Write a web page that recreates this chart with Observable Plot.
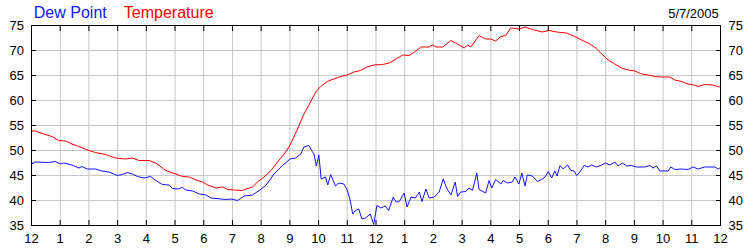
<!DOCTYPE html>
<html>
<head>
<meta charset="utf-8">
<script src="https://cdn.jsdelivr.net/npm/d3@7"></script>
<script src="https://cdn.jsdelivr.net/npm/@observablehq/plot@0.6"></script>
<style>
  html, body { margin: 0; padding: 0; background: #fff; }
  #chart svg { display: block; }
</style>
</head>
<body>
<div id="chart"></div>
<script>
// ---- data ----
const legendNames = ["Dew Point", "Temperature"];
const dateLabel = "5/7/2005";

const hourTicks = [0,1,2,3,4,5,6,7,8,9,10,11,12,13,14,15,16,17,18,19,20,21,22,23,24];
const hourLabels = ["12","1","2","3","4","5","6","7","8","9","10","11","12","1","2","3","4","5","6","7","8","9","10","11","12"];
const valueTicks = [35,40,45,50,55,60,65,70,75];

const tempHours = [0,0.13,0.48,0.71,0.95,1.18,1.41,1.65,2.0,2.23,2.58,2.93,3.28,3.51,3.75,4.10,4.33,4.68,5.03,5.26,5.50,5.73,5.96,
  6.14,6.43,6.66,6.83,7.06,7.35,7.47,7.70,7.87,8.10,8.34,8.57,8.80,8.97,9.14,9.32,9.49,9.72,9.90,10.07,10.30,10.53,10.76,10.99,11.23,11.46,11.69,11.92,
  12.23,12.46,12.70,12.93,13.16,13.39,13.56,13.85,13.97,14.09,14.32,14.61,14.78,15.07,15.19,15.30,15.59,15.82,16.0,16.17,16.35,16.52,16.69,16.98,17.21,17.45,17.79,18.03,
  18.29,18.64,18.93,19.16,19.39,19.62,19.86,20.09,20.32,20.55,20.78,21.02,21.25,21.48,21.71,21.94,22.23,22.41,22.64,22.87,23.10,23.22,23.45,23.74,23.89,24.0];
const tempValues = [53.9,53.9,53.2,52.8,52.0,51.9,51.3,50.8,50.0,49.6,49.2,48.5,48.3,48.5,48.0,48.0,47.5,46.0,45.3,44.8,44.7,44.1,43.7,
  43.1,42.5,42.7,42.2,42.1,42.0,42.3,42.7,43.7,44.7,46.0,47.7,49.3,50.7,52.7,55.0,57.3,59.7,61.7,62.8,63.8,64.3,64.8,65.1,65.7,66.0,66.7,67.1,
  67.2,67.5,68.3,69.1,69.0,69.9,70.7,70.7,71.1,70.7,70.7,72.0,71.5,70.5,71.1,70.7,73.0,72.3,72.3,71.9,72.8,73.0,74.5,74.3,74.7,74.2,73.7,74.0,
  73.7,73.5,72.8,72.1,71.5,70.7,69.3,68.1,67.3,66.5,66.1,65.9,65.3,65.1,64.8,64.7,64.7,64.1,63.8,63.3,63.1,62.8,63.2,63.1,62.8,62.7];

const dewHours = [0,0.05,0.1,0.6,0.83,1.0,1.12,1.41,1.65,1.76,1.94,2.23,2.46,2.70,2.99,3.16,3.34,3.51,3.69,3.92,4.15,4.33,4.56,4.80,4.91,5.09,5.26,5.38,5.61,5.85,6.08,
  6.25,6.60,6.77,6.95,7.18,7.41,7.70,7.93,8.16,8.45,8.74,9.01,9.20,9.38,9.49,9.66,9.78,9.84,9.92,10.01,10.09,10.24,10.32,10.42,10.59,10.71,10.88,10.99,11.09,11.19,11.28,11.40,11.51,11.63,11.80,11.92,12.03,
  12.17,12.32,12.44,12.60,12.70,12.81,12.98,13.08,13.22,13.37,13.51,13.60,13.74,13.85,14.03,14.20,14.34,14.46,14.61,14.76,14.84,14.95,15.13,15.24,15.36,15.51,15.59,15.82,15.94,16.03,16.17,16.35,16.43,16.58,16.75,16.84,16.98,17.08,17.19,17.27,17.45,17.62,17.79,17.89,
  18.0,18.12,18.23,18.31,18.41,18.52,18.67,18.79,18.90,18.99,19.10,19.25,19.39,19.51,19.68,19.86,20.0,20.15,20.32,20.44,20.58,20.73,20.90,21.07,21.36,21.54,21.65,21.77,21.89,22.18,22.27,22.41,22.64,22.87,23.05,23.22,23.45,23.80,23.92,24.0];
const dewValues = [47.7,47.3,47.7,47.6,47.8,47.3,47.5,47.1,46.5,46.8,46.3,46.3,45.9,45.7,45.0,45.2,45.6,45.3,44.8,44.5,44.8,44.0,43.2,43.1,42.4,42.3,42.6,42.1,41.9,41.3,41.1,
  40.5,40.3,40.2,40.3,40.0,40.9,41.1,42.0,43.0,45.3,47.0,48.3,48.5,49.3,50.7,51.0,49.8,49.3,46.9,49.1,44.3,44.7,43.1,45.2,42.9,43.5,43.3,42.2,40.3,37.3,38.0,38.3,36.3,36.5,37.3,35.2,39.0,
  38.5,38.9,38.0,40.7,39.7,39.8,41.5,38.7,40.7,40.5,41.7,39.8,42.3,40.5,40.7,41.7,44.3,42.5,41.1,43.7,40.8,41.7,41.8,42.5,42.0,45.5,42.2,41.5,44.0,42.5,44.2,43.3,44.0,43.5,43.7,44.7,43.3,45.5,42.9,45.1,44.9,43.8,44.3,44.7,
  45.8,44.5,45.9,44.9,47.0,46.3,47.1,46.0,45.9,45.0,45.7,47.0,46.7,47.1,46.7,47.1,47.5,47.1,47.7,46.9,47.5,46.9,47.0,46.7,46.7,47.0,46.5,46.9,45.9,45.9,46.7,46.2,46.3,46.2,46.7,46.3,46.7,46.7,46.3,46.6];

// ---- build tables ----
const temp = tempHours.map((h, i) => ({h, v: tempValues[i]}));
const dew = dewHours.map((h, i) => ({h, v: dewValues[i]}));

const blue = "#1414ff";
const red = "#ff0000";
const font = "Arial, 'Liberation Sans', sans-serif";

const chart = Plot.plot({
  width: 750,
  height: 250,
  marginLeft: 31,
  marginRight: 30,
  marginTop: 25,
  marginBottom: 25,
  style: {fontFamily: font, fontSize: "13px", background: "#fff", color: "#000", overflow: "visible"},
  x: {domain: [0, 24], label: null},
  y: {domain: [35, 75], label: null},
  marks: [
    Plot.gridX(hourTicks, {stroke: "#c8c8c8", strokeOpacity: 1, strokeWidth: 1}),
    Plot.gridY(valueTicks, {stroke: "#c8c8c8", strokeOpacity: 1, strokeWidth: 1}),
    Plot.line(dew, {x: "h", y: "v", stroke: blue, strokeWidth: 1}),
    Plot.line(temp, {x: "h", y: "v", stroke: red, strokeWidth: 1}),
    Plot.frame({stroke: "#000", strokeWidth: 1}),
    Plot.axisX(hourTicks, {anchor: "bottom", tickSize: 5, insetBottom: 5, tickPadding: 8, tickFormat: (d) => hourLabels[hourTicks.indexOf(d)], fontSize: 13}),
    Plot.axisX(hourTicks, {anchor: "top", tickSize: 5, insetTop: 5, tickFormat: () => ""}),
    Plot.axisY(valueTicks, {anchor: "left", tickSize: 5, insetLeft: 5, tickPadding: 7.5, fontSize: 13}),
    Plot.axisY(valueTicks, {anchor: "right", tickSize: 5, insetRight: 5, tickPadding: 8, fontSize: 13}),
    Plot.text([legendNames[0]], {text: (d) => d, frameAnchor: "top-left", textAnchor: "start", lineAnchor: "bottom", dx: 2.3, dy: -7.7, fill: blue, fontSize: 16}),
    Plot.text([legendNames[1]], {text: (d) => d, frameAnchor: "top-left", textAnchor: "start", lineAnchor: "bottom", dx: 92.3, dy: -7.7, fill: red, fontSize: 16}),
    Plot.text([dateLabel], {text: (d) => d, frameAnchor: "top-right", textAnchor: "end", lineAnchor: "bottom", dx: -1.7, dy: -7.7, fill: "#000", fontSize: 13})
  ]
});

document.getElementById("chart").appendChild(chart);
</script>
</body>
</html>
